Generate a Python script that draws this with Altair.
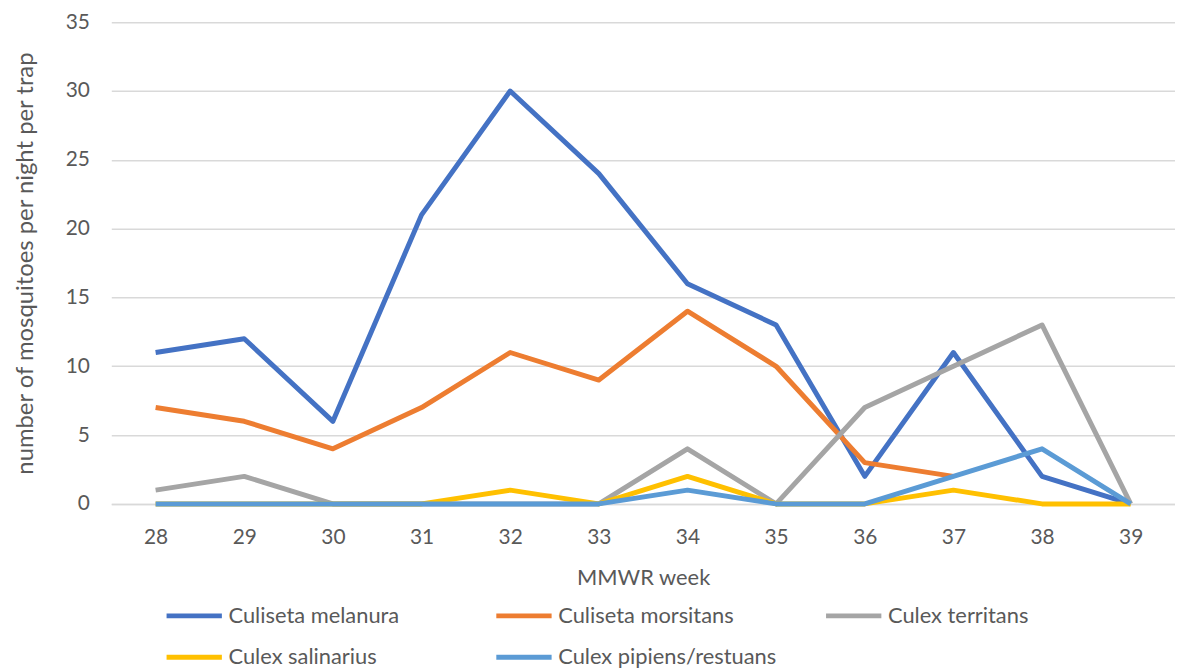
import altair as alt
import pandas as pd

weeks = ["28", "29", "30", "31", "32", "33", "34", "35", "36", "37", "38", "39"]
series_names = ["Culiseta melanura", "Culiseta morsitans", "Culex territans",
                "Culex salinarius", "Culex pipiens/restuans"]
melanura = [11, 12, 6, 21, 30, 24, 16, 13, 2, 11, 2, 0]
morsitans = [7, 6, 4, 7, 11, 9, 14, 10, 3, 2, None, None]
territans = [1, 2, 0, 0, 0, 0, 4, 0, 7, 10, 13, 0]
salinarius = [0, 0, 0, 0, 1, 0, 2, 0, 0, 1, 0, 0]
pipiens = [0, 0, 0, 0, 0, 0, 1, 0, 0, 2, 4, 0]
colors = ["#4472C4", "#ED7D31", "#A5A5A5", "#FFC000", "#5B9BD5"]

rows = []
for name, vals in zip(series_names, [melanura, morsitans, territans, salinarius, pipiens]):
    for w, v in zip(weeks, vals):
        if v is not None:
            rows.append({"week": w, "value": v, "species": name})
df = pd.DataFrame(rows)

FONT = "Lato"
TXT = "#595959"
color_scale = alt.Scale(domain=series_names, range=colors)

layers = []
for name in series_names:
    layers.append(
        alt.Chart(df).transform_filter(alt.datum.species == name).mark_line(strokeWidth=5, strokeJoin="round").encode(
            x=alt.X("week:O", sort=weeks, title="MMWR week",
                    axis=alt.Axis(labelAngle=0, labelFontSize=21, labelColor=TXT, labelFont=FONT,
                                  titleFontSize=22, titleColor=TXT, titleFont=FONT, titleFontWeight="normal",
                                  titlePadding=20, labelPadding=23, ticks=False, domain=True,
                                  domainColor="#d9d9d9", domainWidth=1.5, grid=False)),
            y=alt.Y("value:Q", scale=alt.Scale(domain=[0, 35]), title="number of mosquitoes per night per trap",
                    axis=alt.Axis(values=[0, 5, 10, 15, 20, 25, 30, 35], labelFontSize=21, labelColor=TXT,
                                  labelFont=FONT, titleFontSize=24, titleColor=TXT, titleFont=FONT,
                                  titleFontWeight="normal", titlePadding=28, labelPadding=22, ticks=False,
                                  domain=False, gridColor="#d9d9d9", gridWidth=1.5)),
            color=alt.Color("species:N", scale=color_scale, title=None,
                            legend=alt.Legend(orient="none", legendX=53, legendY=567, columns=3,
                                              direction="horizontal",
                                              symbolType="stroke", symbolSize=3100, symbolStrokeWidth=5,
                                              labelFontSize=22, labelFont=FONT, labelColor=TXT,
                                              columnPadding=39, rowPadding=-13, labelOffset=4,
                                              labelLimit=300, gridAlign="all")),
        )
    )

chart = alt.layer(*layers).properties(
    width=1071, height=485,
    autosize=alt.AutoSizeParams(type="none"),
    padding={"left": 104, "top": 12, "right": 0, "bottom": 172},
).configure_view(stroke=None)

chart.save("out.html", embed_options={"renderer": "svg", "actions": False})
